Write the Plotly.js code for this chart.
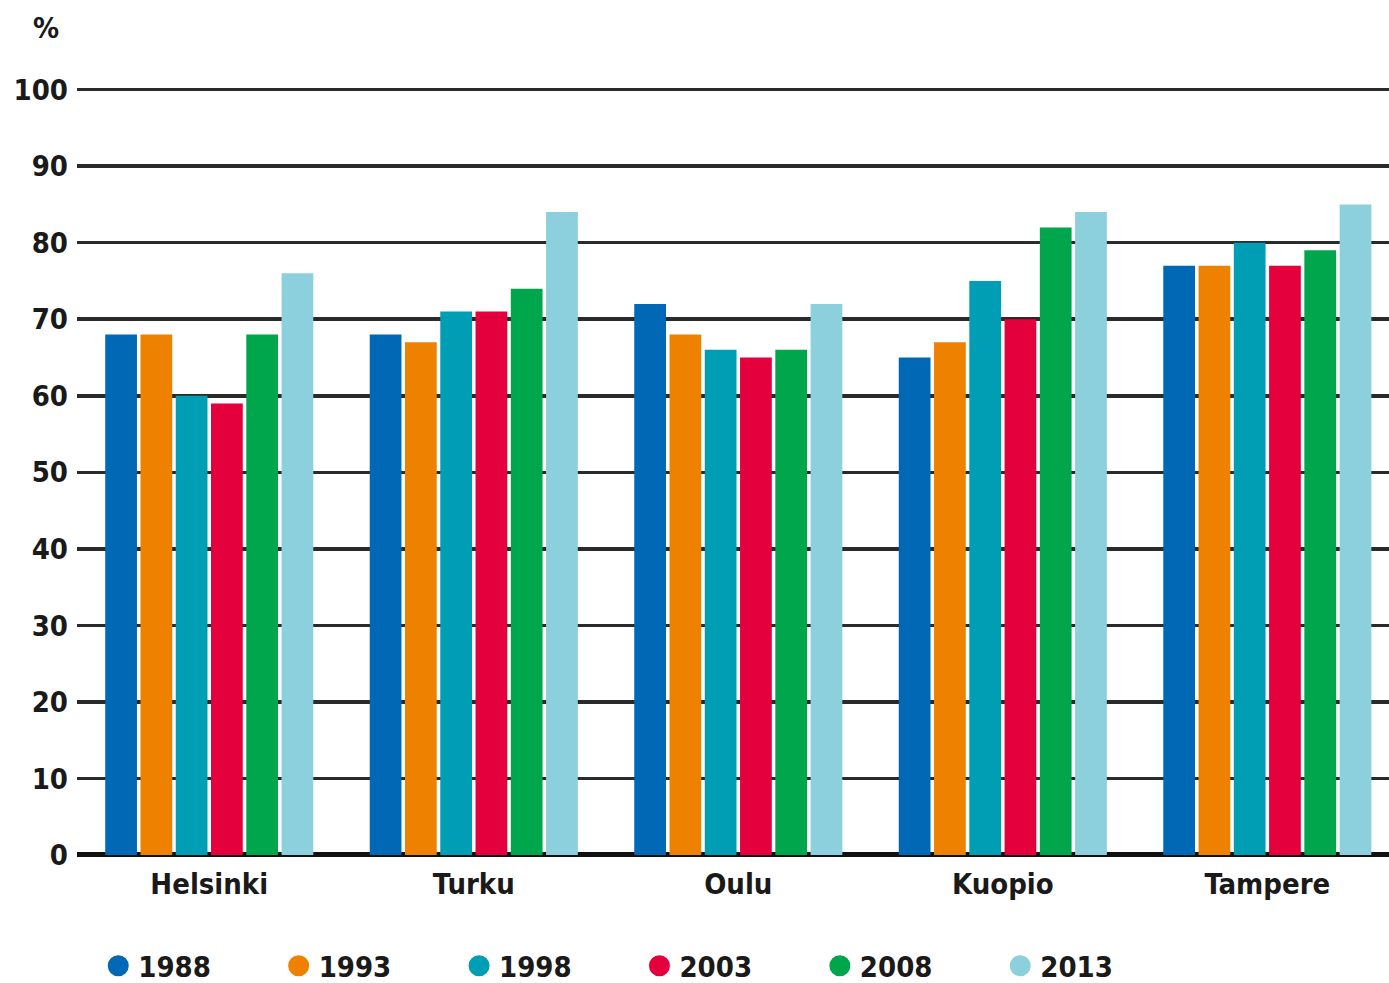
<!DOCTYPE html>
<html>
<head>
<meta charset="utf-8">
<script src="https://cdn.plot.ly/plotly-3.0.1.min.js"></script>
<style>html,body{margin:0;padding:0;background:#fff;}#chart{width:1389px;height:983px;}</style>
</head>
<body>
<div id="chart"></div>
<script>
const cities = ["Helsinki", "Turku", "Oulu", "Kuopio", "Tampere"];
const years = ["1988", "1993", "1998", "2003", "2008", "2013"];
const v1988 = [68, 68, 72, 65, 77];
const v1993 = [68, 67, 68, 67, 77];
const v1998 = [60, 71, 66, 75, 80];
const v2003 = [59, 71, 65, 70, 77];
const v2008 = [68, 74, 66, 82, 79];
const v2013 = [76, 84, 72, 84, 85];
const yTicks = [0, 10, 20, 30, 40, 50, 60, 70, 80, 90, 100];
const colors = ["#0068b4", "#ef8100", "#009eb5", "#e4003c", "#00a64c", "#8ccfdd"];
const series = [v1988, v1993, v1998, v2003, v2008, v2013];

const FONT = "Liberation Sans Narrow, DejaVu Sans Condensed, Arial Narrow, sans-serif";
const TXT = {family: FONT, size: 29, color: "#1a1a1a", weight: "bold"};

const traces = [];
series.forEach((vals, i) => {
  traces.push({
    type: "bar", x: cities, y: vals, name: years[i],
    marker: {color: colors[i]}, showlegend: false, hoverinfo: "x+y"
  });
});
years.forEach((yr, i) => {
  traces.push({
    type: "scatter", mode: "markers", x: [null], y: [null], name: yr,
    marker: {color: colors[i], size: 16, symbol: "circle", line: {color: colors[i], width: 5}},
    showlegend: true
  });
});

const layout = {
  width: 1389, height: 983,
  margin: {l: 77, r: 0, t: 82, b: 125, autoexpand: false},
  paper_bgcolor: "#fff", plot_bgcolor: "#fff",
  barmode: "group", bargap: 0.2, bargroupgap: 0.1,
  font: TXT,
  xaxis: {
    type: "category", range: [-0.5, 4.46], showgrid: false, zeroline: false,
    showline: false, ticks: "", ticklabelstandoff: 6,
    tickfont: TXT, fixedrange: true
  },
  yaxis: {
    range: [-0.4, 101], tickvals: yTicks, ticktext: yTicks.map(String),
    showgrid: true, gridcolor: "#2a2a2a", gridwidth: 3.5,
    zeroline: true, zerolinecolor: "#111", zerolinewidth: 5,
    showline: false, ticks: "", ticklabelstandoff: 8,
    tickfont: TXT, fixedrange: true
  },
  showlegend: true,
  legend: {
    orientation: "h", x: 0.0162, xanchor: "left", y: -0.139, yanchor: "middle",
    font: TXT,
    entrywidth: 135.4, entrywidthmode: "pixels", itemclick: false, itemdoubleclick: false,
    bgcolor: "rgba(0,0,0,0)"
  },
  annotations: [{
    text: "%", xref: "paper", yref: "paper", x: -0.0236, y: 1.07,
    xanchor: "center", yanchor: "middle", showarrow: false,
    font: TXT
  }]
};

Plotly.newPlot("chart", traces, layout, {displayModeBar: false, staticPlot: true});
</script>
</body>
</html>
